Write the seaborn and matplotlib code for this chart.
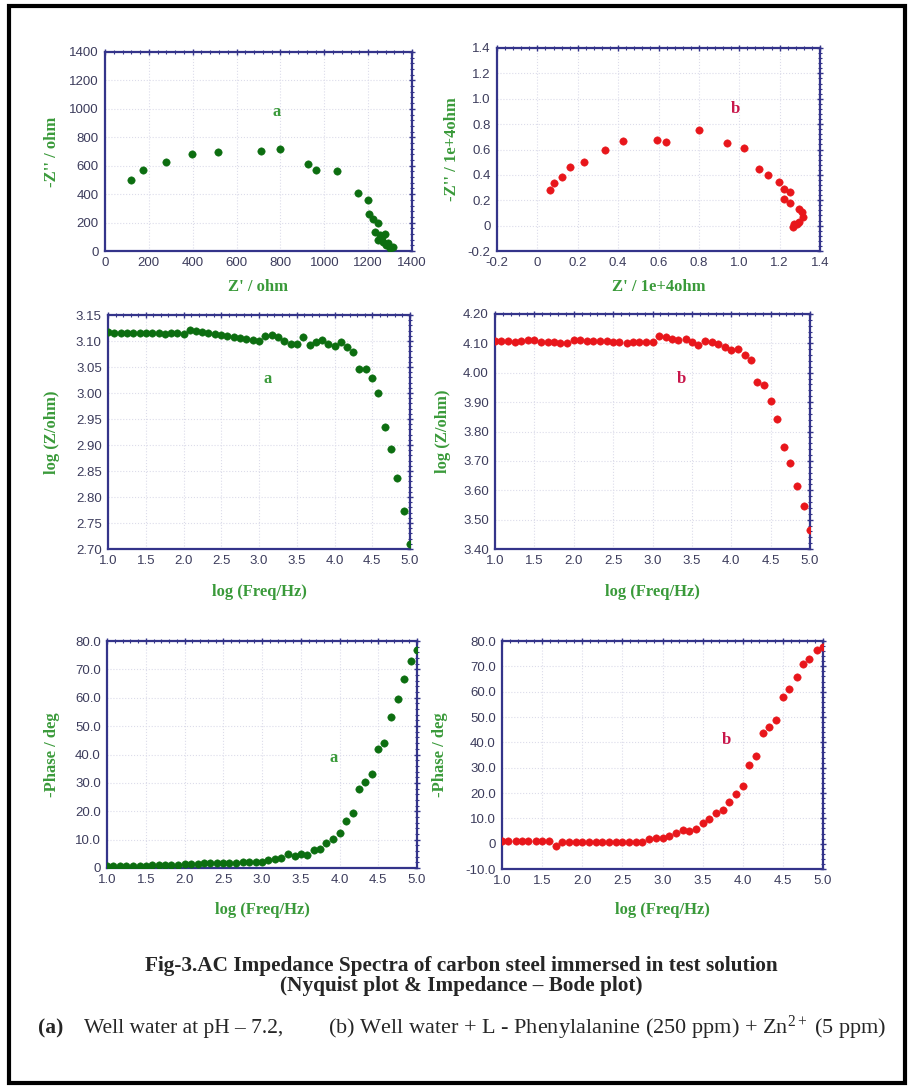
import matplotlib
matplotlib.use("Agg")
import matplotlib.pyplot as plt
from matplotlib.patches import Rectangle
from matplotlib.ticker import AutoMinorLocator, FixedLocator
import seaborn as sns

# === Data ===
# Nyquist, well water (a): Z' and -Z'' in ohm
nyq_a_re = [118, 175, 276, 395, 516, 711, 797, 926, 964, 1060, 1154, 1200, 1203, 1222,
            1245, 1230, 1253, 1276, 1245, 1268, 1290, 1313, 1298, 1262, 1283]
nyq_a_im = [496, 569, 628, 679, 693, 703, 717, 611, 567, 560, 407, 361, 260, 222,
            199, 136, 112, 117, 77, 66, 54, 30, 19, 95, 40]

# Nyquist, inhibitor system (b): in 1e+4 ohm
nyq_b_re = [0.064, 0.081, 0.122, 0.160, 0.231, 0.337, 0.424, 0.592, 0.639, 0.799, 0.939,
            1.025, 1.097, 1.140, 1.196, 1.224, 1.252, 1.224, 1.251, 1.294, 1.310, 1.318,
            1.294, 1.272, 1.266, 1.285]
nyq_b_im = [0.280, 0.338, 0.385, 0.460, 0.505, 0.600, 0.670, 0.675, 0.657, 0.757, 0.649,
            0.615, 0.450, 0.400, 0.343, 0.285, 0.264, 0.207, 0.175, 0.128, 0.105, 0.065,
            0.031, 0.010, -0.008, 0.013]

# Bode plots share the frequency axis
log_freq = [1.00, 1.08, 1.17, 1.25, 1.33, 1.42, 1.50, 1.58, 1.67, 1.75, 1.83, 1.92,
            2.00, 2.08, 2.17, 2.25, 2.33, 2.42, 2.50, 2.58, 2.67, 2.75, 2.83, 2.92,
            3.00, 3.08, 3.17, 3.25, 3.33, 3.42, 3.50, 3.58, 3.67, 3.75, 3.83, 3.92,
            4.00, 4.08, 4.17, 4.25, 4.33, 4.42, 4.50, 4.58, 4.67, 4.75, 4.83, 4.92, 5.00]

log_z_a = [3.117, 3.116, 3.115, 3.116, 3.115, 3.115, 3.115, 3.115, 3.116, 3.113, 3.115, 3.116,
           3.114, 3.121, 3.120, 3.117, 3.115, 3.113, 3.111, 3.110, 3.108, 3.105, 3.103, 3.102,
           3.100, 3.110, 3.111, 3.107, 3.100, 3.094, 3.095, 3.108, 3.093, 3.099, 3.102, 3.094,
           3.091, 3.098, 3.088, 3.078, 3.047, 3.047, 3.029, 3.000, 2.935, 2.893, 2.836, 2.774, 2.709]

log_z_b = [4.108, 4.107, 4.108, 4.105, 4.107, 4.110, 4.110, 4.104, 4.106, 4.106, 4.101, 4.102,
           4.110, 4.110, 4.108, 4.108, 4.107, 4.107, 4.106, 4.104, 4.102, 4.104, 4.105, 4.104,
           4.106, 4.124, 4.122, 4.115, 4.112, 4.116, 4.103, 4.096, 4.109, 4.103, 4.097, 4.088,
           4.078, 4.081, 4.062, 4.044, 3.967, 3.958, 3.904, 3.843, 3.748, 3.693, 3.615, 3.545, 3.466]

phase_a = [0.6, 0.7, 0.7, 0.8, 0.8, 0.7, 0.8, 0.9, 1.0, 1.0, 1.1, 1.2,
           1.3, 1.5, 1.5, 1.6, 1.7, 1.8, 1.8, 1.9, 1.9, 2.0, 2.0, 2.1,
           2.2, 2.7, 3.2, 3.5, 5.0, 4.1, 5.0, 4.7, 6.4, 6.7, 8.8, 10.2,
           12.3, 16.6, 19.3, 27.8, 30.2, 33.0, 41.8, 44.1, 53.3, 59.7, 66.5, 72.9, 76.7]

phase_b = [1.2, 1.1, 1.0, 0.9, 0.9, 0.9, 0.9, 1.0, -0.8, 0.6, 0.7, 0.7,
           0.6, 0.7, 0.8, 0.8, 0.8, 0.7, 0.8, 0.8, 0.8, 0.5, 1.8, 2.2,
           2.2, 3.1, 4.2, 5.5, 4.9, 5.8, 8.1, 9.8, 12.1, 13.1, 16.3, 19.7,
           22.6, 31.1, 34.8, 43.8, 46.2, 48.8, 58.0, 61.1, 65.6, 70.9, 72.7, 76.6, 77.7]

# === Style ===
GREEN_PT = "#0c6e10"
GREEN_TXT = "#3a9a3a"
RED_PT = "#e8161b"
RED_TXT = "#c8164a"
NAVY = "#34348a"
TICK_TXT = "#3c3c5c"
SERIF = "Liberation Serif"

sns.set_style("white")
plt.rcParams["font.family"] = ["Liberation Sans", "DejaVu Sans"]
plt.rcParams["mathtext.fontset"] = "custom"
plt.rcParams["mathtext.rm"] = SERIF
plt.rcParams["mathtext.it"] = SERIF + ":italic"

W, H = 909, 1089
fig = plt.figure(figsize=(W / 100, H / 100), dpi=100)


def add_axes(left, right, top, bottom):
    ax = fig.add_axes([left / W, 1 - bottom / H, (right - left) / W, (bottom - top) / H])
    ax._px = (left, right, top, bottom)
    return ax


def style_axes(ax, xlim, ylim, xticks, yticks, xfmt, yfmt, xlabel, ylabel, xlab_y, ylab_x):
    ax.set_xlim(*xlim)
    ax.set_ylim(*ylim)
    ax.xaxis.set_major_locator(FixedLocator(xticks))
    ax.yaxis.set_major_locator(FixedLocator(yticks))
    ax.set_xticklabels([xfmt(v) for v in xticks])
    ax.set_yticklabels([yfmt(v) for v in yticks])
    ax.xaxis.set_minor_locator(AutoMinorLocator(5))
    ax.yaxis.set_minor_locator(AutoMinorLocator(5))
    for sp in ax.spines.values():
        sp.set_color(NAVY)
        sp.set_linewidth(1.6)
    ax.tick_params(which="both", direction="inout", color=NAVY, top=True, right=True,
                   labelsize=9.5, labelcolor=TICK_TXT, pad=2)
    ax.tick_params(which="major", length=5, width=1.0)
    ax.tick_params(which="minor", length=3, width=0.8)
    ax.grid(True, which="major", color="#dcdcea", linestyle=":", linewidth=0.8)
    ax.set_axisbelow(True)
    ax.set_xlabel(xlabel, family=SERIF, weight="bold", color=GREEN_TXT, fontsize=12)
    ax.set_ylabel(ylabel, family=SERIF, weight="bold", color=GREEN_TXT, fontsize=12)
    left, right, top, bottom = ax._px
    ax.xaxis.set_label_coords(0.5, (bottom - xlab_y) / (bottom - top))
    ax.yaxis.set_label_coords((ylab_x - left) / (right - left), 0.5)
    ax.xaxis.label.set_va("center")
    ax.yaxis.label.set_va("center")


def scatter(ax, x, y, color):
    sns.scatterplot(x=x, y=y, ax=ax, color=color, s=28, edgecolor=color, linewidth=0.4,
                    legend=False, zorder=3)


def mark(ax, x, y, s, color):
    ax.text(x, y, s, color=color, family=SERIF, weight="bold", fontsize=12,
            ha="center", va="center")


f0 = lambda v: f"{v:.0f}"
f1 = lambda v: f"{v:.1f}"
f2 = lambda v: f"{v:.2f}"
fz = lambda v: "0" if abs(v) < 1e-9 else f"{v:.1f}"

freq_ticks = [1.0, 1.5, 2.0, 2.5, 3.0, 3.5, 4.0, 4.5, 5.0]

# Nyquist a
ax1 = add_axes(105, 412, 52, 251)
scatter(ax1, nyq_a_re, nyq_a_im, GREEN_PT)
style_axes(ax1, (0, 1400), (0, 1400), list(range(0, 1401, 200)), list(range(0, 1401, 200)),
           f0, f0, "Z' / ohm", "-Z'' / ohm", 287, 52)
mark(ax1, 784, 975, "a", GREEN_TXT)

# Nyquist b
ax2 = add_axes(497, 820, 48, 251)
scatter(ax2, nyq_b_re, nyq_b_im, RED_PT)
nb_ticks = [-0.2, 0.0, 0.2, 0.4, 0.6, 0.8, 1.0, 1.2, 1.4]
style_axes(ax2, (-0.2, 1.4), (-0.2, 1.4), nb_ticks, nb_ticks, fz, fz,
           "Z' / 1e+4ohm", "-Z'' / 1e+4ohm", 287, 452)
mark(ax2, 0.98, 0.92, "b", RED_TXT)

# Bode |Z| a
ax3 = add_axes(108, 410, 315, 549)
scatter(ax3, log_freq, log_z_a, GREEN_PT)
style_axes(ax3, (1.0, 5.0), (2.70, 3.15), freq_ticks,
           [2.70, 2.75, 2.80, 2.85, 2.90, 2.95, 3.00, 3.05, 3.10, 3.15],
           f1, f2, "log (Freq/Hz)", "log (Z/ohm)", 592, 52)
mark(ax3, 3.12, 3.027, "a", GREEN_TXT)

# Bode |Z| b
ax4 = add_axes(495, 810, 314, 549)
scatter(ax4, log_freq, log_z_b, RED_PT)
style_axes(ax4, (1.0, 5.0), (3.40, 4.20), freq_ticks,
           [3.40, 3.50, 3.60, 3.70, 3.80, 3.90, 4.00, 4.10, 4.20],
           f1, f2, "log (Freq/Hz)", "log (Z/ohm)", 592, 443)
mark(ax4, 3.37, 3.98, "b", RED_TXT)

# Bode phase a
ax5 = add_axes(107, 417, 641, 868)
scatter(ax5, log_freq, phase_a, GREEN_PT)
style_axes(ax5, (1.0, 5.0), (0, 80), freq_ticks, list(range(0, 81, 10)),
           f1, fz, "log (Freq/Hz)", "-Phase / deg", 910, 52)
mark(ax5, 3.92, 38.8, "a", GREEN_TXT)

# Bode phase b
ax6 = add_axes(502, 823, 641, 869)
scatter(ax6, log_freq, phase_b, RED_PT)
style_axes(ax6, (1.0, 5.0), (-10, 80), freq_ticks, list(range(-10, 81, 10)),
           f1, fz, "log (Freq/Hz)", "-Phase / deg", 910, 440)
mark(ax6, 3.80, 41, "b", RED_TXT)

# Caption
fig.text(461 / W, 1 - 966 / H, "Fig-3.AC Impedance Spectra of carbon steel immersed in test solution",
         ha="center", va="center", family=SERIF, weight="bold", fontsize=15.3)
fig.text(461 / W, 1 - 986 / H, "(Nyquist plot & Impedance \u2013 Bode plot)",
         ha="center", va="center", family=SERIF, weight="bold", fontsize=15.3)
fig.text(38 / W, 1 - 1028 / H, "(a)", ha="left", va="center", family=SERIF,
         weight="bold", fontsize=15.5)
fig.text(84 / W, 1 - 1028 / H, "Well water at pH \u2013 7.2,", ha="left", va="center",
         family=SERIF, fontsize=15.5)
fig.text(328 / W, 1 - 1028 / H,
         "(b) Well water + L - Phenylalanine (250 ppm) + Zn$^{2+}$ (5 ppm)",
         ha="left", va="center", family=SERIF, fontsize=16)

# Outer frame
fig.patches.append(Rectangle((9 / W, 6 / H), 896 / W, 1077 / H, transform=fig.transFigure,
                             fill=False, edgecolor="black", linewidth=3))

fig.savefig("out.png", dpi=100)
